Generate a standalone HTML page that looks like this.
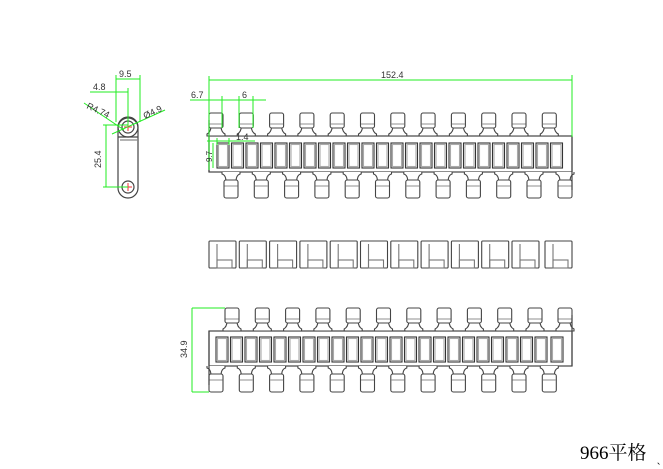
<!DOCTYPE html>
<html><head><meta charset="utf-8"><style>
html,body{margin:0;padding:0;background:#fff;width:663px;height:469px;overflow:hidden}
svg{display:block}
</style></head><body>
<svg width="663" height="469" viewBox="0 0 663 469" xmlns="http://www.w3.org/2000/svg" font-family="Liberation Sans, sans-serif">
<defs>
<g id="tu" fill="#fff" stroke="#444" stroke-width="1.1">
<path d="M2,13 Q2,19 -2,21 L-2,23 L16,23 L16,21 Q12,19 12,13"/>
<rect x="0" y="0" width="14" height="15" rx="2"/>
<line x1="0.5" y1="11" x2="13.5" y2="11" stroke="#999"/>
</g>
<g id="td" fill="#fff" stroke="#444" stroke-width="1.1">
<path d="M-2,0 L-2,2 Q2,3 2,10 L12,10 Q12,3 16,2 L16,0"/>
<rect x="0" y="8" width="14" height="18" rx="2"/>
<line x1="0.5" y1="14" x2="13.5" y2="14" stroke="#999"/>
</g>
<g id="sl" fill="none" stroke="#333" stroke-width="1.1">
<rect x="0" y="0" width="12" height="25"/>
<rect x="1.5" y="1.5" width="9" height="22" stroke="#aaa"/>
</g>
<g id="mb" fill="none" stroke="#444" stroke-width="1.1">
<rect x="0" y="0" width="27" height="27" rx="1"/>
<rect x="8" y="19" width="15" height="8" stroke="#777"/>
<line x1="8" y1="3" x2="8" y2="27" stroke="#777"/>
</g>
</defs>

<!-- TOP VIEW -->
<rect x="209" y="136" width="363" height="36" fill="#fff" stroke="#444" stroke-width="1.2"/>
<g>
<use href="#tu" x="209" y="113"/><use href="#tu" x="239.3" y="113"/><use href="#tu" x="269.6" y="113"/><use href="#tu" x="299.9" y="113"/><use href="#tu" x="330.2" y="113"/><use href="#tu" x="360.5" y="113"/><use href="#tu" x="390.8" y="113"/><use href="#tu" x="421.1" y="113"/><use href="#tu" x="451.4" y="113"/><use href="#tu" x="481.7" y="113"/><use href="#tu" x="512" y="113"/><use href="#tu" x="542.3" y="113"/>
<use href="#td" x="224" y="172"/><use href="#td" x="254.3" y="172"/><use href="#td" x="284.6" y="172"/><use href="#td" x="314.9" y="172"/><use href="#td" x="345.2" y="172"/><use href="#td" x="375.5" y="172"/><use href="#td" x="405.8" y="172"/><use href="#td" x="436.1" y="172"/><use href="#td" x="466.4" y="172"/><use href="#td" x="496.7" y="172"/><use href="#td" x="527" y="172"/><use href="#td" x="558" y="172"/>
</g>
<line x1="209" y1="120" x2="209" y2="172" stroke="#444" stroke-width="1.2"/>
<line x1="572" y1="136" x2="572" y2="190" stroke="#444" stroke-width="1.2"/>
<g>
<use href="#sl" x="217" y="143"/><use href="#sl" x="231.5" y="143"/><use href="#sl" x="246" y="143"/><use href="#sl" x="260.5" y="143"/><use href="#sl" x="275" y="143"/><use href="#sl" x="289.5" y="143"/><use href="#sl" x="304" y="143"/><use href="#sl" x="318.5" y="143"/><use href="#sl" x="333" y="143"/><use href="#sl" x="347.5" y="143"/><use href="#sl" x="362" y="143"/><use href="#sl" x="376.5" y="143"/><use href="#sl" x="391" y="143"/><use href="#sl" x="405.5" y="143"/><use href="#sl" x="420" y="143"/><use href="#sl" x="434.5" y="143"/><use href="#sl" x="449" y="143"/><use href="#sl" x="463.5" y="143"/><use href="#sl" x="478" y="143"/><use href="#sl" x="492.5" y="143"/><use href="#sl" x="507" y="143"/><use href="#sl" x="521.5" y="143"/><use href="#sl" x="536" y="143"/><use href="#sl" x="550.5" y="143"/>
</g>

<!-- MIDDLE VIEW -->
<g>
<use href="#mb" x="209" y="241"/><use href="#mb" x="239.3" y="241"/><use href="#mb" x="269.6" y="241"/><use href="#mb" x="299.9" y="241"/><use href="#mb" x="330.2" y="241"/><use href="#mb" x="360.5" y="241"/><use href="#mb" x="390.8" y="241"/><use href="#mb" x="421.1" y="241"/><use href="#mb" x="451.4" y="241"/><use href="#mb" x="481.7" y="241"/><use href="#mb" x="512" y="241"/><use href="#mb" x="545" y="241"/>
</g>

<!-- BOTTOM VIEW -->
<rect x="209" y="331" width="363" height="35" fill="#fff" stroke="#444" stroke-width="1.2"/>
<g>
<use href="#tu" x="225" y="308"/><use href="#tu" x="255.3" y="308"/><use href="#tu" x="285.6" y="308"/><use href="#tu" x="315.9" y="308"/><use href="#tu" x="346.2" y="308"/><use href="#tu" x="376.5" y="308"/><use href="#tu" x="406.8" y="308"/><use href="#tu" x="437.1" y="308"/><use href="#tu" x="467.4" y="308"/><use href="#tu" x="497.7" y="308"/><use href="#tu" x="528" y="308"/><use href="#tu" x="558" y="308"/>
<use href="#td" x="209" y="366"/><use href="#td" x="239.3" y="366"/><use href="#td" x="269.6" y="366"/><use href="#td" x="299.9" y="366"/><use href="#td" x="330.2" y="366"/><use href="#td" x="360.5" y="366"/><use href="#td" x="390.8" y="366"/><use href="#td" x="421.1" y="366"/><use href="#td" x="451.4" y="366"/><use href="#td" x="481.7" y="366"/><use href="#td" x="512" y="366"/><use href="#td" x="542.3" y="366"/>
</g>
<line x1="572" y1="315" x2="572" y2="366" stroke="#444" stroke-width="1.2"/>
<line x1="209" y1="331" x2="209" y2="385" stroke="#444" stroke-width="1.2"/>
<g>
<use href="#sl" x="216" y="337"/><use href="#sl" x="230.5" y="337"/><use href="#sl" x="245" y="337"/><use href="#sl" x="259.5" y="337"/><use href="#sl" x="274" y="337"/><use href="#sl" x="288.5" y="337"/><use href="#sl" x="303" y="337"/><use href="#sl" x="317.5" y="337"/><use href="#sl" x="332" y="337"/><use href="#sl" x="346.5" y="337"/><use href="#sl" x="361" y="337"/><use href="#sl" x="375.5" y="337"/><use href="#sl" x="390" y="337"/><use href="#sl" x="404.5" y="337"/><use href="#sl" x="419" y="337"/><use href="#sl" x="433.5" y="337"/><use href="#sl" x="448" y="337"/><use href="#sl" x="462.5" y="337"/><use href="#sl" x="477" y="337"/><use href="#sl" x="491.5" y="337"/><use href="#sl" x="506" y="337"/><use href="#sl" x="520.5" y="337"/><use href="#sl" x="535" y="337"/><use href="#sl" x="551" y="337"/>
</g>

<!-- SIDE PIECE -->
<g fill="none" stroke="#444" stroke-width="1.2">
<rect x="118" y="118" width="20" height="80" rx="10"/>
<circle cx="128" cy="127" r="10"/>
<circle cx="128" cy="127" r="6"/>
<circle cx="128" cy="187" r="6"/>
<line x1="118" y1="137" x2="138" y2="137"/>
<line x1="120" y1="140" x2="138" y2="140" stroke="#888"/>
</g>
<g stroke="#e33" stroke-width="1">
<line x1="124" y1="127" x2="132" y2="127"/><line x1="128" y1="123" x2="128" y2="131"/>
<line x1="124" y1="187" x2="132" y2="187"/><line x1="128" y1="183" x2="128" y2="191"/>
</g>

<!-- DIMENSIONS (green) -->
<g stroke="#2e2" stroke-width="1" fill="none">
<line x1="209" y1="76" x2="209" y2="170"/>
<line x1="572" y1="75" x2="572" y2="137"/>
<line x1="209" y1="80" x2="572" y2="80"/>
<line x1="190" y1="100" x2="266" y2="100"/>
<line x1="222" y1="96" x2="222" y2="128"/>
<line x1="239" y1="96" x2="239" y2="128"/>
<line x1="253" y1="96" x2="253" y2="128"/>
<line x1="207" y1="141" x2="255" y2="141"/>
<line x1="217" y1="138" x2="217" y2="145"/>
<line x1="229" y1="138" x2="229" y2="145"/>
<line x1="213" y1="143" x2="213" y2="168"/>
<line x1="192" y1="308" x2="225" y2="308"/>
<line x1="192" y1="392" x2="209" y2="392"/>
<line x1="192" y1="308" x2="192" y2="392"/>
<line x1="116" y1="75" x2="116" y2="122"/>
<line x1="140" y1="75" x2="140" y2="122"/>
<line x1="116" y1="79" x2="140" y2="79"/>
<line x1="90" y1="92" x2="128" y2="92"/>
<line x1="128" y1="88" x2="128" y2="125"/>
<line x1="84" y1="103" x2="124" y2="130"/>
<line x1="112" y1="134" x2="165" y2="110"/>
<line x1="103" y1="125" x2="128" y2="125"/>
<line x1="103" y1="187" x2="128" y2="187"/>
<line x1="106" y1="125" x2="106" y2="187"/>
</g>
<g font-size="9" fill="#333">
<text x="381" y="78">152.4</text>
<text x="191" y="98">6.7</text>
<text x="242" y="98">6</text>
<text x="236" y="140">1.4</text>
<text x="119" y="77">9.5</text>
<text x="93" y="90">4.8</text>
<text x="86" y="108" transform="rotate(25 86 108)">R4.74</text>
<text x="145" y="119" transform="rotate(-25 145 119)">Ø4.9</text>
<text transform="translate(101 168) rotate(-90)">25.4</text>
<text transform="translate(212 162) rotate(-90)" font-size="8">9.7</text>
<text transform="translate(187 358) rotate(-90)">34.9</text>
</g>
<text x="580" y="459" font-family="Liberation Serif, 'Noto Serif CJK SC', serif" font-size="19" fill="#000">966平格</text>
<text x="657" y="464" font-size="8" fill="#000">、</text>
</svg>
</body></html>
